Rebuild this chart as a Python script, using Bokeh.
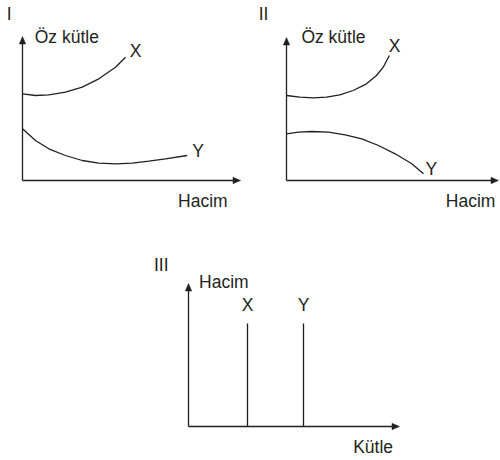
from bokeh.plotting import figure
from bokeh.models import Range1d, Spacer
from bokeh.layouts import column, row
from bokeh.core.properties import value
from bokeh.embed import file_html
from bokeh.resources import INLINE

INK = "#231f20"
FONT = "Liberation Sans"
FS = "17.5px"
DY = 0.7  # baseline correction (data units)

# ---------------- data (schematic, arbitrary units) ----------------
# Panel I : Öz kütle vs Hacim
I_X_hacim = [0, 1.3, 2.63, 4.3, 5.97, 7.63, 9.3, 10.3]
I_X_ozkutle = [8.67, 8.5, 8.57, 8.83, 9.33, 10.17, 11.33, 12.33]
I_Y_hacim = [0, 1.3, 2.63, 4.3, 5.97, 7.63, 9.3, 10.97, 12.63, 14.3, 16.47]
I_Y_ozkutle = [5.17, 4.0, 3.17, 2.5, 2.0, 1.73, 1.67, 1.73, 1.93, 2.17, 2.5]

# Panel II : Öz kütle vs Hacim
II_X_hacim = [0, 1.33, 2.67, 4.0, 5.33, 6.67, 8.0, 9.0, 9.67, 10.17, 10.3]
II_X_ozkutle = [8.5, 8.33, 8.27, 8.33, 8.57, 9.0, 9.67, 10.5, 11.33, 12.27, 12.5]
II_Y_hacim = [0, 1.2, 2.53, 4.2, 5.87, 7.53, 9.2, 10.87, 12.53, 13.7]
II_Y_ozkutle = [4.67, 4.83, 4.9, 4.83, 4.57, 4.17, 3.5, 2.67, 1.67, 0.67]

# Panel III : Hacim vs Kütle (vertical lines)
III_names = ["X", "Y"]
III_kutle = [5.9, 11.5]
III_hacim_top = [10.3, 10.3]

HEAD_L = 0.75   # arrow head length (data units)
HEAD_W = 0.32   # arrow head half width


def make_fig(width, height, xr, yr):
    p = figure(width=width, height=height, x_range=Range1d(*xr), y_range=Range1d(*yr),
               x_axis_type=None, y_axis_type=None, output_backend="svg",
               toolbar_location=None, min_border=0)
    p.outline_line_color = None
    p.grid.visible = False
    p.background_fill_color = "white"
    p.border_fill_color = "white"
    return p


def axes(p, xlen, ylen):
    p.segment(x0=[0, 0], y0=[0, 0], x1=[xlen - HEAD_L * 0.5, 0], y1=[0, ylen - HEAD_L * 0.5],
              line_color=INK, line_width=1.3)
    xs = [[xlen, xlen - HEAD_L, xlen - HEAD_L], [0, -HEAD_W, HEAD_W]]
    ys = [[0, HEAD_W, -HEAD_W], [ylen, ylen - HEAD_L, ylen - HEAD_L]]
    p.patches(xs=xs, ys=ys, fill_color=INK, line_color=INK, line_width=0.5)


def texts(p, xs, ys, txt, align):
    p.text(x=xs, y=[y + DY for y in ys], text=txt, text_font=value(FONT),
           text_font_size=value(FS), text_color=INK, text_align=align,
           text_baseline="alphabetic")


# ---------------- Panel I ----------------
p1 = make_fig(250, 228, (-2.2, 22.8), (-4.8, 18.0))
axes(p1, 21.8, 14.4)
p1.line(I_X_hacim, I_X_ozkutle, line_color=INK, line_width=1.3)
p1.line(I_Y_hacim, I_Y_ozkutle, line_color=INK, line_width=1.3)
texts(p1, [-1.33, 11.3, 17.55], [15.93, 12.3, 2.3], ["I", "X", "Y"], "center")
texts(p1, [1.22, 15.56], [13.67, -2.75], ["Öz kütle", "Hacim"], "left")

# ---------------- Panel II ----------------
p2 = make_fig(250, 228, (-3.6, 21.4), (-4.8, 18.0))
axes(p2, 21.2, 14.3)
p2.line(II_X_hacim, II_X_ozkutle, line_color=INK, line_width=1.3)
p2.line(II_Y_hacim, II_Y_ozkutle, line_color=INK, line_width=1.3)
texts(p2, [-2.3, 10.8, 14.48], [15.93, 12.73, 0.5], ["II", "X", "Y"], "center")
texts(p2, [1.49, 15.93], [13.67, -2.75], ["Öz kütle", "Hacim"], "left")

# ---------------- Panel III ----------------
p3 = make_fig(260, 232, (-3.8, 22.2), (-3.4, 19.8))
axes(p3, 21.1, 14.3)
p3.segment(x0=III_kutle, y0=[0, 0], x1=III_kutle, y1=III_hacim_top, line_color=INK, line_width=1.3)
texts(p3, III_kutle, [11.43, 11.43], III_names, "center")
texts(p3, [-2.72], [15.43], ["III"], "center")
texts(p3, [1.06, 16.47], [13.77, -2.7], ["Hacim", "Kütle"], "left")

layout = column(row(p1, p2), row(Spacer(width=150, height=232), p3))

open("out.html", "w").write(file_html(layout, INLINE))
